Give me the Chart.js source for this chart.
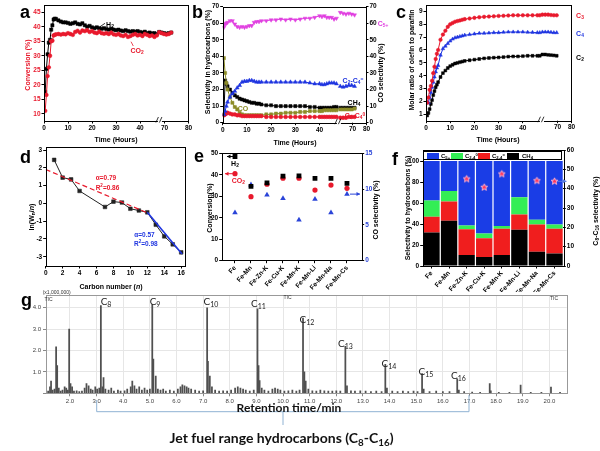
<!DOCTYPE html>
<html><head><meta charset="utf-8">
<script src="https://cdn.jsdelivr.net/npm/chart.js@4.4.1/dist/chart.umd.min.js"></script>
<style>
html,body{margin:0;padding:0;background:#fff;}
body{width:600px;height:451px;position:relative;overflow:hidden;}
canvas{position:absolute;}
svg{position:absolute;left:0;top:0;}
.t{position:absolute;white-space:nowrap;font-family:"Liberation Sans",Arial,sans-serif;font-weight:bold;font-size:7px;line-height:1;transform:translate(-50%,-50%);color:#000;}
.r{transform:translate(-50%,-50%) rotate(-90deg);}
.P{position:absolute;font-family:"Liberation Sans",Arial,sans-serif;font-weight:bold;font-size:18px;line-height:18px;color:#000;}
.t sub,.t sup{font-size:70%;line-height:0;position:relative;vertical-align:baseline;}
.t sub{top:0.3em;} .t sup{top:-0.45em;}
.cl{font-family:Lato,"Open Sans",sans-serif;font-weight:normal;font-size:10px;color:#222;}
.tiny{font-family:"Liberation Sans",Arial,sans-serif;font-weight:normal;font-size:5px;color:#333;}
.big{font-family:Lato,"Open Sans",sans-serif;font-weight:bold;color:#111;}
#flegend{position:absolute;left:423px;top:151px;width:139px;height:9px;border:1px solid #000;background:#fff;box-sizing:border-box;}
#flegend span.sw{position:absolute;top:1px;height:6px;width:12px;}
#flegend span.lt{position:absolute;top:4px;transform:translateY(-50%);font:bold 6px "Liberation Sans",Arial,sans-serif;white-space:nowrap;}
#flegend span.lt sub,#flegend span.lt sup{font-size:70%;line-height:0;position:relative;vertical-align:baseline;}
#flegend span.lt sub{top:0.3em;} #flegend span.lt sup{top:-0.45em;}
</style></head><body>
<canvas id="ca" width="197" height="148" style="left:0;top:0"></canvas>
<canvas id="cb" width="205" height="148" style="left:195px;top:0"></canvas>
<canvas id="cc" width="200" height="148" style="left:400px;top:0"></canvas>
<canvas id="cd" width="197" height="152" style="left:0;top:140px"></canvas>
<canvas id="ce" width="205" height="152" style="left:195px;top:140px"></canvas>
<canvas id="cf" width="200" height="152" style="left:400px;top:140px"></canvas>
<canvas id="cg" width="600" height="130" style="left:0;top:285px"></canvas>

<svg width="600" height="451">
  <path d="M100 26.7 L105 23.3" stroke="#000" stroke-width="0.8" fill="none"/>
  <path d="M131 41.7 L133.3 46" stroke="#e8192c" stroke-width="0.8" fill="none"/>
  <path d="M233 106 L237.5 107.3" stroke="#8c8c28" stroke-width="0.8" fill="none"/>
  <path d="M96.7 400 V411.7 H469 V395" stroke="#8fb2d3" stroke-width="1" fill="none"/>
  <path d="M283 411.7 V425" stroke="#8fb2d3" stroke-width="1" fill="none"/>
</svg>

<div class="P" style="left:20px;top:3px">a</div>
<div class="P" style="left:192px;top:3px">b</div>
<div class="P" style="left:396px;top:3px">c</div>
<div class="P" style="left:20px;top:147.5px">d</div>
<div class="P" style="left:194px;top:146.5px">e</div>
<div class="P" style="left:392px;top:150px">f</div>
<div class="P" style="left:21px;top:291px">g</div>

<!-- panel a -->
<div class="t r" style="left:27px;top:65px;color:#e8192c">Conversion (%)</div>
<div class="t" style="left:116px;top:139px">Time (Hours)</div>
<div class="t" style="left:110px;top:23.5px">H<sub>2</sub></div>
<div class="t" style="left:137px;top:50px;color:#e8192c">CO<sub>2</sub></div>
<!-- panel b -->
<div class="t r" style="left:206.7px;top:62px">Selectivity in hydrocarbons (%)</div>
<div class="t r" style="left:380px;top:73px">CO selectivity (%)</div>
<div class="t" style="left:295px;top:142px">Time (Hours)</div>
<div class="t" style="left:383px;top:23px;color:#e040e0">C<sub>5+</sub></div>
<div class="t" style="left:353px;top:80px;color:#1f35e0">C<sub>2</sub>-C<sub>4</sub><sup>=</sup></div>
<div class="t" style="left:354px;top:102px">CH<sub>4</sub></div>
<div class="t" style="left:355px;top:115px;color:#e8192c">C<sub>2</sub>-C<sub>4</sub><sup>0</sup></div>
<div class="t" style="left:243px;top:107.5px;color:#8c8c28">CO</div>
<!-- panel c -->
<div class="t r" style="left:410.5px;top:60px">Molar ratio of olefin to paraffin</div>
<div class="t" style="left:498px;top:139px">Time (Hours)</div>
<div class="t" style="left:580px;top:15px;color:#e8192c">C<sub>3</sub></div>
<div class="t" style="left:580px;top:32.5px;color:#1f35e0">C<sub>4</sub></div>
<div class="t" style="left:580px;top:57px">C<sub>2</sub></div>
<!-- panel d -->
<div class="t r" style="left:31px;top:217px">ln(W<sub>n</sub>/<i>n</i>)</div>
<div class="t" style="left:111px;top:285.7px">Carbon number (<i>n</i>)</div>
<div class="t" style="left:106px;top:178.3px;color:#e8192c;font-size:6.5px">α=0.79</div>
<div class="t" style="left:107.5px;top:187.5px;color:#e8192c;font-size:6.5px">R<sup>2</sup>=0.86</div>
<div class="t" style="left:144.5px;top:235px;color:#1f35e0;font-size:6.5px">α=0.57</div>
<div class="t" style="left:145.8px;top:243.5px;color:#1f35e0;font-size:6.5px">R<sup>2</sup>=0.98</div>
<!-- panel e -->
<div class="t r" style="left:209px;top:208px">Conversion(%)</div>
<div class="t r" style="left:375px;top:210px">CO selectivity (%)</div>
<div class="t" style="left:235px;top:162.5px">H<sub>2</sub></div>
<div class="t" style="left:238.3px;top:180px;color:#e8192c">CO<sub>2</sub></div>
<!-- panel f -->
<div class="t r" style="left:407px;top:208px">Selectivity to hydrocarbons (%)</div>
<div class="t r" style="left:595px;top:211px">C<sub>8</sub>-C<sub>16</sub> selectivity (%)</div>
<div id="flegend">
  <span class="sw" style="left:3px;background:#1a3de6"></span><span class="lt" style="left:17px">C<sub>5+</sub></span>
  <span class="sw" style="left:27px;background:#33ee55"></span><span class="lt" style="left:41px">C<sub>2-4</sub><sup>0</sup></span>
  <span class="sw" style="left:54px;background:#f01e1e"></span><span class="lt" style="left:68px">C<sub>2-4</sub><sup>=</sup></span>
  <span class="sw" style="left:83px;background:#000"></span><span class="lt" style="left:98px">CH<sub>4</sub></span>
</div>
<!-- panel g -->
<div class="t tiny" style="left:56.7px;top:291.5px">(x1,000,000)</div>
<div class="t tiny" style="left:48.5px;top:299px">TIC</div>
<div class="t tiny" style="left:287.5px;top:297px">TIC</div>
<div class="t tiny" style="left:554px;top:298.3px">TIC</div>
<div class="t cl" style="left:106px;top:301px">C<sub>8</sub></div>
<div class="t cl" style="left:155px;top:301px">C<sub>9</sub></div>
<div class="t cl" style="left:211px;top:301px">C<sub>10</sub></div>
<div class="t cl" style="left:258.5px;top:303px">C<sub>11</sub></div>
<div class="t cl" style="left:307px;top:318.5px">C<sub>12</sub></div>
<div class="t cl" style="left:345.5px;top:342.5px">C<sub>13</sub></div>
<div class="t cl" style="left:389px;top:362.5px">C<sub>14</sub></div>
<div class="t cl" style="left:426px;top:370.5px">C<sub>15</sub></div>
<div class="t cl" style="left:458.5px;top:374.5px">C<sub>16</sub></div>
<div class="t big" style="left:289px;top:408px;font-size:12px">Retention time/min</div>
<div class="t big" style="left:281.5px;top:438px;font-size:14px">Jet fuel range hydrocarbons (C<sub>8</sub>-C<sub>16</sub>)</div>

<script>
// ---------------- DATA ----------------
// panel a: conversion vs time
const aTimePre = [0.5,1,1.5,2,2.5,3,3.5,4,4.5,5,6,7,8,9,10,11,12,13,14,15,16,17,18,19,20,21,22,23,24,25,26,27,28,29,30,31,32,33,34,35,36,37,38,39,40,41,42,43,44,45,46,47];
const aH2Pre = [17.5,25.5,30.5,34.5,35.5,39,40.5,42.5,42.8,42.7,42.2,41.8,41.5,41.5,41.3,41.0,41.2,41.5,41.0,40.8,41.2,40.5,40.0,40.3,39.8,39.5,39.8,39.5,39.3,39.5,39.2,39.0,39.3,39.0,38.8,39.0,38.7,38.5,38.8,38.5,38.3,38.5,38.3,38.5,38.2,38.0,38.3,37.8,38.0,37.7,37.8,37.5];
const aCO2Pre = [11,16.5,23,26,30,35,35.2,37,37.2,37.4,37.5,37.3,37.5,37.4,37.8,37.5,37.2,38.2,38.6,38.0,38.7,38.5,38.8,38.2,38.5,38.0,37.8,38.3,37.8,37.6,37.8,37.5,38.0,37.4,37.2,37.5,37.0,36.8,37.2,36.5,36.8,37.2,37.5,37.0,37.2,36.8,37.5,37.2,36.8,37.0,36.5,37.0];
const aTimePost = [68,69,70,71,72,73];
const aH2Post = [38.2,38.0,37.8,37.6,37.8,38.0];
const aCO2Post = [38.1,37.8,37.5,37.3,37.5,38.0];
const aPostTicks = [70,80];

// panel b: selectivity vs time
const bTimePre = [0.5,1,1.5,2,3,4,5,6,7,8,9,10,11,12,13,14,15,16,18,20,22,24,26,28,30,32,34,36,38,40,41,42,43,44,45,46,47];
const bC5 = [57.5,59.5,60,60.5,61.5,61.5,59.5,58,57.5,58,57.5,58,58.5,58.5,60.5,61,61,61.5,61.5,62,62,62.5,62,62.5,62,62.5,63,63,63.5,64.5,64,64.5,63.5,63.5,63.5,62.5,63];
const bC24ene = [5,7,10,12.5,15.5,17.5,19,21,22.5,24.5,25,25,25.5,25.5,25,24.5,24.5,24.5,24.5,24.5,24.5,24.5,24.5,24.5,24.5,24.5,24.5,24,23.5,23.5,23,23,23.5,24,24,24,23.5];
const bCH4 = [5,25.5,23.5,22,20,18,16.5,15.5,14.5,14,13.5,13,12.5,12,12,11.5,11.5,11,10.5,10.5,10,10,10,10,10,10,10,9.5,9.5,9,9,9,9,9,9,9.5,9.5];
const bCO = [39,30,24,20,15.5,12,9.5,8,6,5,4.5,4.5,4.5,4.5,4.5,4.5,4.5,4.5,5,5,5.5,5.5,6,6,6,6.5,6.5,7,7,7,7,7.5,7.5,7.5,7.5,7.5,7.5];
const bC24ane = [4.5,5,5.5,6,5.5,5,5,4.5,4.5,4,4,4,4,4,4,4,4,4,3.5,3.5,3.5,3.5,3.5,3.5,3.5,3.5,3.5,3.5,3.5,3.5,3.5,3.5,3.5,3.5,3.5,3.5,3.5];
const bTimePost = [62,64,66,68,70,72];
const bC5Post = [66.5,66,65.5,66,65.5,65];
const bC24enePost = [22,21.5,22,22.5,22.5,22];
const bCH4Post = [9,9,9,9,9,9];
const bCOPost = [8,8,8,8,8,8.5];
const bC24anePost = [3,3,3,3.5,3.5,3.5];
const bPostTicks = [70,80];

// panel c: olefin/paraffin ratio
const cTimePre = [0.5,1,1.5,2,2.5,3,3.5,4,4.5,5,6,7,8,9,10,11,12,13,14,15,16,18,20,22,24,26,28,30,32,34,36,38,40,42,44,46,47];
const cC3 = [1.9,2.3,2.9,3.2,3.6,4.2,4.7,5.3,5.7,6.0,6.8,7.2,7.5,7.8,8.0,8.1,8.2,8.25,8.3,8.35,8.4,8.45,8.5,8.55,8.58,8.6,8.62,8.65,8.66,8.68,8.7,8.7,8.7,8.7,8.7,8.7,8.7];
const cC4 = [1.9,1.9,2.3,2.7,3.1,3.5,3.9,4.3,4.6,4.8,5.6,6.1,6.3,6.5,6.7,6.85,6.95,7.0,7.05,7.1,7.15,7.2,7.25,7.3,7.3,7.32,7.35,7.35,7.38,7.4,7.4,7.4,7.4,7.38,7.37,7.35,7.35];
const cC2 = [0.9,1.1,1.4,1.8,2.1,2.5,2.8,3.1,3.3,3.5,3.9,4.2,4.4,4.6,4.75,4.85,4.95,5.0,5.05,5.1,5.15,5.2,5.25,5.3,5.35,5.38,5.4,5.42,5.45,5.48,5.5,5.5,5.52,5.55,5.55,5.55,5.55];
const cTimePost = [60,62,64,66,68,70];
const cC3Post = [8.75,8.75,8.75,8.72,8.7,8.7];
const cC4Post = [7.4,7.4,7.4,7.38,7.35,7.35];
const cC2Post = [5.65,5.65,5.62,5.6,5.58,5.55];
const cPostTicks = [70,80];

// panel d: ASF plot
const dCarbon = [1,2,3,4,7,8,9,10,11,12,13,14,15,16];
const dLnW = [2.45,1.45,1.35,0.7,-0.2,0.1,0.05,-0.3,-0.4,-0.5,-1.2,-1.85,-2.3,-2.75];
const dFitRedX = [0,12.1];
const dFitRedY = [1.91,-0.55];
const dFitBlueX = [12,16.1];
const dFitBlueY = [-0.5,-2.85];

// panel e: catalysts conversion
const eCats = ['Fe','Fe-Mn','Fe-Zn-K','Fe-Cu-K','Fe-Mn-K','Fe-Mn-Li','Fe-Mn-Na','Fe-Mn-Cs'];
const eH2 = [48.5,34.6,36.2,39.4,39.5,38.3,38.3,36.0];
const eCO2 = [40.5,29.8,35.6,38.4,38.4,32.9,35.2,33.7];
const eCOSel = [6.7,10.6,9.2,8.7,5.7,8.6,6.7,9.3];

// panel f: product distribution
const fCats = ['Fe','Fe-Mn','Fe-Zn-K','Fe-Cu-K','Fe-Mn-K','Fe-Mn-Li','Fe-Mn-Na','Fe-Mn-Cs'];
const fCH4 = [32,43,10.5,8.5,10.5,34.5,13.5,12];
const fC24ene = [15,18.5,24.5,18,25,14.5,26,23.5];
const fC24ane = [15.5,10,3.5,4.5,2.5,16.5,4.5,4];
const fC5plus = [37.5,28.5,61.5,69,62,34.5,56,60.5];
const fC816 = [null,null,45.0,40.7,47.6,null,44.1,43.8];

// panel g: chromatogram peaks (retention time, signal x1,000,000)
const gRetention = [1.18,1.25,1.29,1.35,1.42,1.48,1.52,1.58,1.65,1.72,1.80,1.86,1.92,1.97,2.02,2.08,2.15,2.25,2.35,2.45,2.55,2.62,2.70,2.78,2.85,2.95,3.02,3.10,3.16,3.22,3.26,3.33,3.45,3.55,3.65,3.80,3.90,4.05,4.15,4.28,4.34,4.42,4.50,4.60,4.70,4.80,4.90,5.00,5.09,5.13,5.22,5.30,5.40,5.50,5.60,5.75,5.90,6.05,6.15,6.22,6.30,6.38,6.45,6.55,6.70,6.85,7.00,7.15,7.18,7.25,7.33,7.45,7.60,7.75,7.90,8.05,8.20,8.30,8.40,8.50,8.60,8.75,8.90,9.04,9.08,9.12,9.20,9.30,9.45,9.60,9.70,9.80,9.90,10.05,10.20,10.35,10.50,10.62,10.75,10.80,10.85,10.95,11.10,11.25,11.40,11.55,11.70,11.85,12.00,12.15,12.34,12.40,12.55,12.70,12.90,13.10,13.30,13.50,13.70,13.84,13.90,14.10,14.30,14.50,14.70,14.90,15.05,15.22,15.28,15.50,15.75,16.00,16.25,16.54,16.60,16.80,17.10,17.40,17.76,17.80,18.10,18.50,18.92,19.30,19.70,20.06,20.40];
const gSignal = [0.10,0.30,0.57,0.15,0.20,2.17,1.30,0.25,0.10,0.15,0.30,0.25,0.15,3.00,0.45,0.30,0.10,0.12,0.08,0.10,0.25,0.45,0.35,0.20,0.15,0.30,0.20,0.25,4.10,0.30,0.73,0.20,0.15,0.25,0.10,0.15,0.10,0.12,0.20,0.30,0.57,0.35,0.20,0.30,0.15,0.25,0.15,0.20,4.15,1.60,0.80,0.20,0.15,0.20,0.10,0.15,0.10,0.20,0.30,0.40,0.35,0.30,0.25,0.20,0.15,0.10,0.12,4.00,1.50,0.80,0.30,0.15,0.10,0.12,0.10,0.15,0.25,0.30,0.25,0.20,0.15,0.10,0.15,3.95,1.30,0.60,0.25,0.15,0.10,0.20,0.25,0.20,0.15,0.10,0.12,0.15,0.10,0.15,3.52,1.00,0.57,0.20,0.12,0.10,0.15,0.12,0.10,0.10,0.12,0.10,2.20,0.35,0.12,0.10,0.12,0.10,0.08,0.10,0.08,1.35,0.25,0.10,0.08,0.10,0.08,0.10,0.08,0.92,0.20,0.08,0.10,0.08,0.08,0.68,0.15,0.08,0.06,0.05,0.46,0.12,0.05,0.05,0.39,0.05,0.05,0.29,0.05];

// ---------------- STYLE / HELPERS ----------------
const FF = '"Liberation Sans", Arial, Helvetica, sans-serif';
const TF = {family: FF, size: 6.5, weight: 'bold'};
const RED = '#e8192c', BLUE = '#1f35e0', MAG = '#e040e0', OLIVE = '#8c8c28', BLK = '#000';

const pts = (xs, ys) => xs.map((x, i) => ({x: x, y: ys[i]}));

function ser(xs, ys, color, style, xid, extra) {
  return Object.assign({
    type: 'line', data: pts(xs, ys), borderColor: color, backgroundColor: color,
    pointBackgroundColor: color, pointBorderColor: color, pointStyle: style,
    pointRadius: 2, pointBorderWidth: 0.5, borderWidth: 1, tension: 0,
    xAxisID: xid, yAxisID: 'y'
  }, extra || {});
}

// ticks at whole multiples of the step inside the axis range (optionally limited)
const stepTicks = (step, keep) => s => {
  const out = [];
  const start = Math.ceil((s.min - 1e-9) / step) * step;
  for (let v = start; v <= s.max + 1e-9; v += step) {
    const r = Math.round(v * 1e6) / 1e6;
    if (!keep || keep(r)) out.push({value: r});
  }
  s.ticks = out;
};

function axis(o) {
  const a = {
    type: o.type || 'linear', position: o.pos, display: true,
    border: {display: false},
    grid: {display: true, drawOnChartArea: !!o.grid, drawTicks: true, tickLength: o.tl != null ? o.tl : 2.5,
           color: o.gridColor || '#000', tickColor: o.tickColor || '#000', lineWidth: 1, offset: false},
    ticks: {font: o.font || TF, color: o.color || '#000', padding: o.pad != null ? o.pad : 1, autoSkip: false,
            maxRotation: o.rot || 0, minRotation: o.rot || 0}
  };
  if (o.min != null) a.min = o.min;
  if (o.max != null) a.max = o.max;
  if (o.cb) a.ticks.callback = o.cb;
  if (o.step != null) a.afterBuildTicks = stepTicks(o.step, o.keep);
  if (o.stacked) a.stacked = true;
  if (o.offset != null) a.offset = o.offset;
  if (o.w != null) a.afterFit = s => { s.width = o.w; };
  if (o.h != null) a.afterFit = s => { s.height = o.h; };
  return a;
}
const upTo = lim => v => v <= lim;

function base(o) {
  const plugins = Object.assign({legend: {display: false}, tooltip: {enabled: false}}, o.plugins || {});
  return Object.assign({responsive: false, animation: false, devicePixelRatio: 1, events: []}, o, {plugins: plugins});
}

const framePlugin = {
  id: 'frame',
  afterDatasetsDraw(chart, args, opts) {
    const {ctx, chartArea: {left, top, right, bottom}} = chart;
    ctx.save();
    ctx.strokeStyle = (opts && opts.color) || '#000';
    ctx.lineWidth = 1;
    ctx.strokeRect(Math.round(left) + 0.5, Math.round(top) + 0.5, Math.round(right - left), Math.round(bottom - top));
    ctx.restore();
  }
};

const brokenAxisPlugin = {
  id: 'brokenAxis',
  afterDraw(chart, args, o) {
    if (!o || !o.ticks) return;
    const ctx = chart.ctx, b = chart.chartArea.bottom;
    const x = chart.scales.x, x2 = chart.scales.x2;
    ctx.save();
    ctx.strokeStyle = '#000'; ctx.fillStyle = '#000'; ctx.lineWidth = 1;
    ctx.font = 'bold ' + TF.size + 'px ' + FF;
    ctx.textAlign = 'center'; ctx.textBaseline = 'top';
    o.ticks.forEach(v => {
      const px = Math.round(x2.getPixelForValue(v)) + 0.5;
      ctx.beginPath(); ctx.moveTo(px, b); ctx.lineTo(px, b + 2.5); ctx.stroke();
      ctx.fillText(String(v), px, b + 3.5);
    });
    const bx = x.getPixelForValue(o.breakAt);
    ctx.fillStyle = '#fff';
    ctx.fillRect(bx - 2, b - 1, 4, 3);
    ctx.lineWidth = 0.8;
    ctx.beginPath();
    ctx.moveTo(bx - 4, b + 1.5); ctx.lineTo(bx - 1.5, b - 4);
    ctx.moveTo(bx - 0.5, b + 1.5); ctx.lineTo(bx + 2, b - 4);
    ctx.stroke();
    ctx.restore();
  }
};

const arrowPlugin = {
  id: 'arrows',
  afterDatasetsDraw(chart, args, o) {
    if (!o || !o.list) return;
    const ctx = chart.ctx;
    o.list.forEach(a => {
      const el = chart.getDatasetMeta(a.ds).data[a.i];
      if (!el) return;
      const x0 = el.x + a.dir * a.gap, x1 = el.x + a.dir * (a.gap + a.len), y = el.y;
      ctx.save();
      ctx.strokeStyle = a.color; ctx.fillStyle = a.color; ctx.lineWidth = 1;
      ctx.beginPath(); ctx.moveTo(x0, y); ctx.lineTo(x1, y); ctx.stroke();
      ctx.beginPath(); ctx.moveTo(x1, y); ctx.lineTo(x1 - a.dir * 3.5, y - 2); ctx.lineTo(x1 - a.dir * 3.5, y + 2); ctx.closePath(); ctx.fill();
      ctx.restore();
    });
  }
};

function makeStar(r, fill, stroke) {
  const c = document.createElement('canvas');
  const s = Math.ceil(r * 2 + 3);
  c.width = s; c.height = s;
  const ctx = c.getContext('2d');
  ctx.beginPath();
  for (let k = 0; k < 10; k++) {
    const rr = k % 2 ? r * 0.45 : r;
    const ang = -Math.PI / 2 + k * Math.PI / 5;
    ctx.lineTo(s / 2 + rr * Math.cos(ang), s / 2 + rr * Math.sin(ang));
  }
  ctx.closePath();
  ctx.fillStyle = fill; ctx.fill();
  ctx.strokeStyle = stroke; ctx.lineWidth = 1; ctx.stroke();
  return c;
}

const PL = [framePlugin, brokenAxisPlugin, arrowPlugin];

// ---------------- PANEL a ----------------
new Chart(document.getElementById('ca'), {
  type: 'line',
  data: {datasets: [
    ser(aTimePre, aCO2Pre, RED, 'circle', 'x', {pointRadius: 1.9}),
    ser(aTimePost, aCO2Post, RED, 'circle', 'x2', {pointRadius: 1.9}),
    ser(aTimePre, aH2Pre, BLK, 'rect', 'x', {pointRadius: 2.3}),
    ser(aTimePost, aH2Post, BLK, 'rect', 'x2', {pointRadius: 2.3})
  ]},
  options: base({
    layout: {padding: {left: 0, right: 9, top: 5, bottom: 0}},
    scales: {
      x: axis({pos: 'bottom', min: 0, max: 60, step: 10, keep: upTo(40), h: 27, pad: 1}),
      x2: {type: 'linear', display: false, min: 20, max: 80},
      y: axis({pos: 'left', min: 7.5, max: 47.5, step: 5, w: 44, color: RED})
    },
    plugins: {brokenAxis: {ticks: aPostTicks, breakAt: 48.3}}
  }),
  plugins: PL
});

// ---------------- PANEL b ----------------
new Chart(document.getElementById('cb'), {
  type: 'line',
  data: {datasets: [
    ser(bTimePre, bC5, MAG, 'triangle', 'x', {pointRotation: 180, pointRadius: 2.3}),
    ser(bTimePost, bC5Post, MAG, 'triangle', 'x2', {pointRotation: 180, pointRadius: 2.3}),
    ser(bTimePre, bC24ene, BLUE, 'triangle', 'x', {pointRadius: 2.3}),
    ser(bTimePost, bC24enePost, BLUE, 'triangle', 'x2', {pointRadius: 2.3}),
    ser(bTimePre, bC24ane, RED, 'circle', 'x', {pointRadius: 1.9}),
    ser(bTimePost, bC24anePost, RED, 'circle', 'x2', {pointRadius: 1.9}),
    ser(bTimePre, bCO, OLIVE, 'rect', 'x', {pointRadius: 2.2, yAxisID: 'y2'}),
    ser(bTimePost, bCOPost, OLIVE, 'rect', 'x2', {pointRadius: 2.2, yAxisID: 'y2'}),
    ser(bTimePre, bCH4, BLK, 'rect', 'x', {pointRadius: 2.2}),
    ser(bTimePost, bCH4Post, BLK, 'rect', 'x2', {pointRadius: 2.2})
  ]},
  options: base({
    layout: {padding: {left: 0, right: 0, top: 6.7, bottom: 0}},
    scales: {
      x: axis({pos: 'bottom', min: 0, max: 59.2, step: 10, keep: upTo(40), h: 25.3}),
      x2: {type: 'linear', display: false, min: -20.2, max: 80},
      y: axis({pos: 'left', min: 0, max: 70, step: 10, w: 27.7}),
      y2: axis({pos: 'right', min: 0, max: 70, step: 10, w: 34})
    },
    plugins: {brokenAxis: {ticks: bPostTicks, breakAt: 48}}
  }),
  plugins: PL
});

// ---------------- PANEL c ----------------
new Chart(document.getElementById('cc'), {
  type: 'line',
  data: {datasets: [
    ser(cTimePre, cC3, RED, 'circle', 'x', {pointRadius: 1.8}),
    ser(cTimePost, cC3Post, RED, 'circle', 'x2', {pointRadius: 1.8}),
    ser(cTimePre, cC4, BLUE, 'triangle', 'x', {pointRadius: 2.1}),
    ser(cTimePost, cC4Post, BLUE, 'triangle', 'x2', {pointRadius: 2.1}),
    ser(cTimePre, cC2, BLK, 'rect', 'x', {pointRadius: 2}),
    ser(cTimePost, cC2Post, BLK, 'rect', 'x2', {pointRadius: 2})
  ]},
  options: base({
    layout: {padding: {left: 0, right: 29, top: 5, bottom: 0}},
    scales: {
      x: axis({pos: 'bottom', min: 0, max: 59.9, step: 10, keep: upTo(40), h: 27.3}),
      x2: {type: 'linear', display: false, min: -21.4, max: 80},
      y: axis({pos: 'left', min: 0.5, max: 9.5, step: 1, w: 26})
    },
    plugins: {brokenAxis: {ticks: cPostTicks, breakAt: 47.9}}
  }),
  plugins: PL
});

// ---------------- PANEL d ----------------
new Chart(document.getElementById('cd'), {
  type: 'line',
  data: {datasets: [
    ser(dFitBlueX, dFitBlueY, BLUE, 'circle', 'x', {pointRadius: 0, borderWidth: 1.6}),
    ser(dFitRedX, dFitRedY, RED, 'circle', 'x', {pointRadius: 0, borderWidth: 1.2, borderDash: [5, 3]}),
    ser(dCarbon, dLnW, '#222', 'rect', 'x', {pointRadius: 2.6, borderWidth: 1})
  ]},
  options: base({
    layout: {padding: {left: 0, right: 12, top: 6.7, bottom: 0}},
    scales: {
      x: axis({pos: 'bottom', min: 0, max: 16.45, step: 2, h: 26}),
      y: axis({pos: 'left', min: -3.52, max: 3.19, step: 1, w: 45.7})
    }
  }),
  plugins: PL
});

// ---------------- PANEL e ----------------
new Chart(document.getElementById('ce'), {
  type: 'line',
  data: {datasets: [
    {type: 'line', data: pts([1,2,3,4,5,6,7,8], eH2), showLine: false, pointStyle: 'rect', pointRadius: 3.4,
     pointBackgroundColor: BLK, pointBorderColor: BLK, pointBorderWidth: 0, xAxisID: 'x', yAxisID: 'y', order: 0},
    {type: 'line', data: pts([1,2,3,4,5,6,7,8], eCO2), showLine: false, pointStyle: 'circle', pointRadius: 2.6,
     pointBackgroundColor: RED, pointBorderColor: RED, pointBorderWidth: 0, xAxisID: 'x', yAxisID: 'y', order: 0},
    {type: 'line', data: pts([1,2,3,4,5,6,7,8], eCOSel), showLine: false, pointStyle: 'triangle', pointRadius: 3.2,
     pointBackgroundColor: '#2a44d8', pointBorderColor: '#2a44d8', pointBorderWidth: 0, xAxisID: 'x', yAxisID: 'y2', order: 1}
  ]},
  options: base({
    layout: {padding: {left: 0, right: 0, top: 13.3, bottom: 0}},
    scales: {
      x: axis({pos: 'bottom', min: 0.17, max: 8.92, step: 1, h: 31.3, rot: 48, cb: v => eCats[v - 1] || ''}),
      y: axis({pos: 'left', min: 0, max: 50, step: 10, w: 26.7}),
      y2: axis({pos: 'right', min: 0, max: 15, step: 5, w: 38.3, color: '#2a44d8'})
    },
    plugins: {arrows: {list: [
      {ds: 0, i: 0, dir: -1, gap: 2, len: 6, color: BLK},
      {ds: 1, i: 0, dir: -1, gap: 2, len: 8, color: RED},
      {ds: 2, i: 7, dir: 1, gap: 3, len: 10, color: '#2a44d8'}
    ]}}
  }),
  plugins: PL
});

// ---------------- PANEL f ----------------
const fStar = makeStar(3.6, '#ff3358', '#ffb3d1');
new Chart(document.getElementById('cf'), {
  type: 'bar',
  data: {labels: fCats, datasets: [
    {type: 'line', data: fC816, showLine: false, pointStyle: fStar, pointRadius: 4, yAxisID: 'y2', order: 0},
    {data: fCH4, backgroundColor: '#000', yAxisID: 'y', order: 1, barPercentage: 0.93, categoryPercentage: 1},
    {data: fC24ene, backgroundColor: '#f01e1e', yAxisID: 'y', order: 1, barPercentage: 0.93, categoryPercentage: 1},
    {data: fC24ane, backgroundColor: '#33ee55', yAxisID: 'y', order: 1, barPercentage: 0.93, categoryPercentage: 1},
    {data: fC5plus, backgroundColor: '#1a3de6', yAxisID: 'y', order: 1, barPercentage: 0.93, categoryPercentage: 1}
  ]},
  options: base({
    layout: {padding: {left: 0, right: 0, top: 10, bottom: 0}},
    scales: {
      x: axis({type: 'category', pos: 'bottom', h: 26, rot: 48, stacked: true, offset: true}),
      y: axis({pos: 'left', min: 0, max: 110.5, step: 20, keep: v => v <= 100, w: 22.7, stacked: true}),
      y2: axis({pos: 'right', min: 0, max: 60, step: 10, w: 36.7})
    },
    plugins: {arrows: {list: [{ds: 0, i: 7, dir: 1, gap: 3, len: 9, color: '#5a7ee0'}]}}
  }),
  plugins: PL
});

// ---------------- PANEL g ----------------
new Chart(document.getElementById('cg'), {
  type: 'bar',
  data: {datasets: [
    {data: pts(gRetention, gSignal), backgroundColor: '#505050', barThickness: 1.1, borderWidth: 0}
  ]},
  options: base({
    layout: {padding: {left: 0, right: 33.3, top: 10, bottom: 0}},
    scales: {
      x: axis({pos: 'bottom', min: 1.1, max: 20.65, step: 1, h: 21.7, grid: true, gridColor: '#e6e6e6', tickColor: '#888', tl: 3,
               font: {family: FF, size: 6}, color: '#444', offset: false, cb: v => v.toFixed(1)}),
      y: axis({pos: 'left', min: 0, max: 4.6, step: 1, w: 46, grid: true, gridColor: '#e6e6e6', tickColor: '#888', tl: 3,
               font: {family: FF, size: 6}, color: '#444', pad: 2, cb: v => (v === 0 ? '' : v.toFixed(1))})
    },
    plugins: {frame: {color: '#999'}}
  }),
  plugins: [framePlugin]
});
</script>
</body></html>
